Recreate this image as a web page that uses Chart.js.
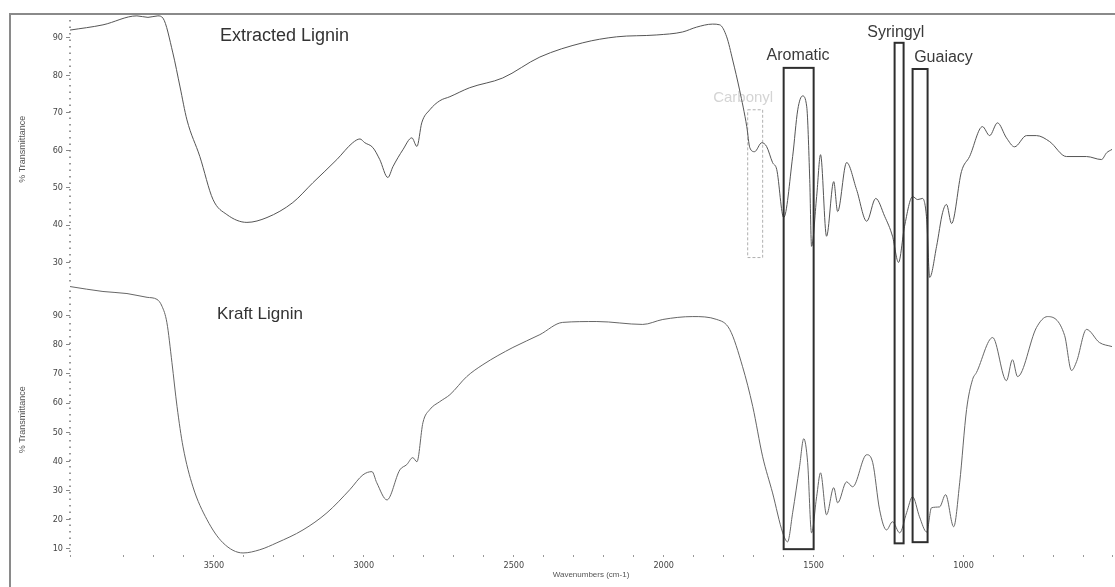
<!DOCTYPE html>
<html>
<head>
<meta charset="utf-8">
<title>FTIR spectra of lignin</title>
<script src="https://cdn.jsdelivr.net/npm/chart.js@4.4.0/dist/chart.umd.min.js"></script>
<style>
  html, body { margin: 0; padding: 0; background: #fff; }
  canvas { display: block; }
</style>
</head>
<body>
<canvas id="irChart" width="1115" height="587"></canvas>
<script>
/*
  Spectrum data (wavenumber in cm-1, % transmittance):
*/
var extractedWavenumbers = [3980, 3870, 3757, 3720, 3687, 3670, 3637, 3613, 3590, 3547, 3503, 3457, 3390, 3323, 3237, 3170, 3090, 3037, 3013, 2997, 2970, 2947, 2920, 2903, 2870, 2840, 2823, 2807, 2780, 2747, 2713, 2647, 2537, 2413, 2270, 2157, 2023, 1937, 1890, 1837, 1813, 1790, 1770, 1747, 1723, 1713, 1697, 1673, 1657, 1637, 1623, 1600, 1570, 1553, 1537, 1523, 1513, 1507, 1490, 1477, 1457, 1433, 1420, 1390, 1357, 1323, 1293, 1263, 1237, 1217, 1197, 1170, 1153, 1137, 1123, 1113, 1090, 1070, 1057, 1040, 1007, 980, 937, 913, 887, 857, 830, 790, 757, 713, 657, 590, 540, 523, 505];
var extractedTransmittance = [92.1, 93.5, 95.9, 95.5, 95.9, 95.3, 86, 76.9, 68.1, 58.3, 46.8, 42.8, 40.7, 42, 46, 51.3, 57.5, 62, 63, 62, 60.7, 57.5, 52.7, 55.6, 60.1, 63.3, 61, 67.3, 70.8, 73.2, 74.3, 76.7, 79.3, 84.9, 88.7, 90.3, 90.8, 91.6, 92.9, 93.7, 93.5, 90.3, 84.1, 76.1, 66.3, 60.7, 59.6, 62, 61, 56.7, 54.8, 42, 58.3, 70.8, 74.5, 71.6, 52.1, 34.3, 47.6, 58.8, 37, 51.6, 43.6, 56.7, 49.5, 41, 47.1, 42.3, 37, 30, 39.6, 47.6, 46.8, 47.1, 41.5, 26, 34.3, 43.3, 45.5, 40.4, 54.3, 58.3, 66.3, 63.9, 67.3, 63.3, 60.9, 63.9, 63.9, 62.3, 58.3, 58.3, 57.5, 59.3, 60.2];

var kraftWavenumbers = [3980, 3870, 3790, 3723, 3690, 3673, 3657, 3640, 3623, 3603, 3570, 3523, 3470, 3403, 3347, 3290, 3203, 3123, 3047, 3003, 2973, 2957, 2923, 2880, 2857, 2837, 2823, 2803, 2780, 2747, 2713, 2657, 2603, 2503, 2413, 2337, 2223, 2070, 2003, 1903, 1823, 1780, 1737, 1703, 1670, 1637, 1603, 1587, 1570, 1547, 1533, 1520, 1507, 1490, 1477, 1457, 1433, 1420, 1390, 1370, 1323, 1303, 1280, 1257, 1237, 1213, 1190, 1170, 1147, 1123, 1107, 1080, 1060, 1033, 1013, 990, 970, 957, 903, 857, 837, 820, 757, 720, 663, 640, 623, 590, 547, 505];
var kraftTransmittance = [100, 98.3, 97.6, 96.3, 95.6, 93.2, 87.7, 73.9, 58.8, 45, 31.3, 20, 12.1, 8.6, 9.7, 12.1, 16.5, 22.4, 30.3, 35.4, 36.5, 32.7, 26.8, 37.1, 38.9, 41.3, 39.9, 53.3, 57.8, 60.5, 62.9, 69.1, 73.2, 79.1, 83.5, 87.7, 88, 87, 88.7, 89.7, 88.7, 85.3, 72.5, 58.8, 41.6, 29.2, 15.5, 12.4, 22.4, 38.2, 47.8, 39.6, 15.5, 27.9, 36.1, 21.7, 31, 25.8, 33, 31.3, 42.3, 39.6, 23.4, 16.5, 19.3, 15.5, 22.4, 27.9, 21, 15.8, 24.1, 24.4, 28.6, 17.6, 32.7, 57.8, 68.1, 70.5, 82.5, 67.7, 74.9, 69.1, 85.9, 89.7, 83.2, 71.2, 74.3, 85.3, 80.8, 79.4];

// axis labels
var xTickLabels = [3500, 3000, 2500, 2000, 1500, 1000];
var topTicks = [30, 40, 50, 60, 70, 80, 90];
var bottomTicks = [10, 20, 30, 40, 50, 60, 70, 80, 90];

// marked bands (cm-1)
var bandNames = ['Aromatic', 'Syringyl', 'Guaiacy'];
var bandFrom = [1600, 1230, 1170];
var bandTo = [1500, 1200, 1120];
var carbonylFrom = 1720;
var carbonylTo = 1670;

var toPoints = (xs, ys) => xs.map((x, i) => ({x: x, y: ys[i]}));

var tickFont = {family: "'Liberation Sans Narrow', 'DejaVu Sans Condensed', sans-serif", size: 9};
var labelFamily = "'Liberation Sans', Arial, sans-serif";

/*
  Frame round the whole plot, dotted y axes
*/
var framePlugin = {
  id: 'frame',
  beforeDraw(chart) {
    var ctx = chart.ctx;
    ctx.save();
    ctx.strokeStyle = '#8a8a8a';
    ctx.lineWidth = 2;
    ctx.beginPath();
    ctx.moveTo(10, 587);
    ctx.lineTo(10, 14);
    ctx.lineTo(1115, 14);
    ctx.stroke();
    ctx.restore();
  },
  afterDraw(chart) {
    var ctx = chart.ctx;
    var left = chart.chartArea.left;
    ctx.save();
    ctx.strokeStyle = '#777';
    ctx.lineWidth = 1.5;
    ctx.setLineDash([1.5, 5]);
    ['yTop', 'yBot'].forEach((id) => {
      var s = chart.scales[id];
      ctx.beginPath();
      ctx.moveTo(left, s.top + 6);
      ctx.lineTo(left, s.bottom);
      ctx.stroke();
    });
    ctx.restore();
  }
};

/*
  Band boxes and labels
*/
var bandTop = {Aromatic: 82, Syringyl: 88.7, Guaiacy: 81.7};
var bandBottom = {Aromatic: 9.9, Syringyl: 11.9, Guaiacy: 12.3};

var drawText = (ctx, text, x, y, size, color, align) => {
  ctx.font = size + 'px ' + labelFamily;
  ctx.fillStyle = color;
  ctx.textAlign = align;
  ctx.textBaseline = 'middle';
  ctx.fillText(text, x, y);
};

var bandPlugin = {
  id: 'bands',
  beforeDatasetsDraw(chart) {
    var ctx = chart.ctx;
    var x = chart.scales.x;
    var yTop = chart.scales.yTop;
    ctx.save();
    // carbonyl region, faint dashed box
    drawText(ctx, 'Carbonyl', x.getPixelForValue(1735), yTop.getPixelForValue(74), 15, '#d4d4d4', 'center');
    ctx.strokeStyle = '#b0b0b0';
    ctx.lineWidth = 1;
    ctx.setLineDash([3, 2]);
    var cx1 = x.getPixelForValue(carbonylFrom);
    var cx2 = x.getPixelForValue(carbonylTo);
    var cy1 = yTop.getPixelForValue(70.8);
    var cy2 = yTop.getPixelForValue(31.3);
    ctx.strokeRect(cx1, cy1, cx2 - cx1, cy2 - cy1);
    ctx.restore();
  },
  afterDatasetsDraw(chart) {
    var ctx = chart.ctx;
    var x = chart.scales.x;
    var yTop = chart.scales.yTop;
    var yBot = chart.scales.yBot;
    ctx.save();
    ctx.strokeStyle = '#2e2e2e';
    ctx.lineWidth = 2;
    bandNames.forEach((name, i) => {
      var x1 = x.getPixelForValue(bandFrom[i]);
      var x2 = x.getPixelForValue(bandTo[i]);
      var y1 = yTop.getPixelForValue(bandTop[name]);
      var y2 = yBot.getPixelForValue(bandBottom[name]);
      ctx.strokeRect(x1, y1, x2 - x1, y2 - y1);
    });
    drawText(ctx, 'Aromatic', x.getPixelForValue(1552), yTop.getPixelForValue(85.2), 16, '#3a3a3a', 'center');
    drawText(ctx, 'Syringyl', x.getPixelForValue(1226), yTop.getPixelForValue(91.3), 16, '#3a3a3a', 'center');
    drawText(ctx, 'Guaiacy', x.getPixelForValue(1067), yTop.getPixelForValue(84.7), 16, '#3a3a3a', 'center');
    drawText(ctx, 'Extracted Lignin', x.getPixelForValue(3480), yTop.getPixelForValue(90.5), 18, '#333', 'left');
    drawText(ctx, 'Kraft Lignin', x.getPixelForValue(3490), yBot.getPixelForValue(90.4), 17, '#333', 'left');
    ctx.restore();
  }
};

var yAxis = (ticks, min, max) => ({
  type: 'linear',
  position: 'left',
  stack: 'ir',
  stackWeight: 1,
  min: min,
  max: max,
  afterBuildTicks: (scale) => { scale.ticks = ticks.map(v => ({value: v})); },
  afterFit: (scale) => { scale.width = 70; },
  ticks: {color: '#444', font: tickFont, padding: 3},
  grid: {drawOnChartArea: false, tickLength: 4, tickColor: '#888'},
  border: {display: false},
  title: {display: true, text: '% Transmittance', color: '#555', font: {family: labelFamily, size: 9}, padding: {top: 17}}
});

var irChart = new Chart(document.getElementById('irChart'), {
  type: 'line',
  data: {
    datasets: [{
      label: 'Extracted Lignin',
      data: toPoints(extractedWavenumbers, extractedTransmittance),
      yAxisID: 'yTop',
      borderColor: '#555',
      borderWidth: 1,
      pointRadius: 0,
      cubicInterpolationMode: 'monotone'
    }, {
      label: 'Kraft Lignin',
      data: toPoints(kraftWavenumbers, kraftTransmittance),
      yAxisID: 'yBot',
      borderColor: '#666',
      borderWidth: 1,
      pointRadius: 0,
      cubicInterpolationMode: 'monotone'
    }]
  },
  options: {
    responsive: false,
    animation: false,
    devicePixelRatio: 1,
    layout: {padding: {top: 14, left: 0, right: 0, bottom: 0}},
    plugins: {
      legend: {display: false},
      tooltip: {enabled: false}
    },
    scales: {
      x: {
        type: 'linear',
        reverse: true,
        min: 505,
        max: 3980,
        afterFit: (scale) => { scale.height = 32; },
        ticks: {
          stepSize: 100,
          autoSkip: false,
          maxRotation: 0,
          color: '#444',
          font: tickFont,
          padding: 3,
          callback: (value) => xTickLabels.indexOf(value) >= 0 ? value : ''
        },
        grid: {drawOnChartArea: false, tickLength: 2, tickColor: '#999'},
        border: {display: false},
        title: {display: true, text: 'Wavenumbers (cm-1)', color: '#555', font: {family: labelFamily, size: 8}, padding: {top: 0, bottom: 7}}
      },
      yBot: yAxis(bottomTicks, 7.9, 100.7),
      yTop: yAxis(topTicks, 24.1, 96.4)
    }
  },
  plugins: [framePlugin, bandPlugin]
});
</script>
</body>
</html>
